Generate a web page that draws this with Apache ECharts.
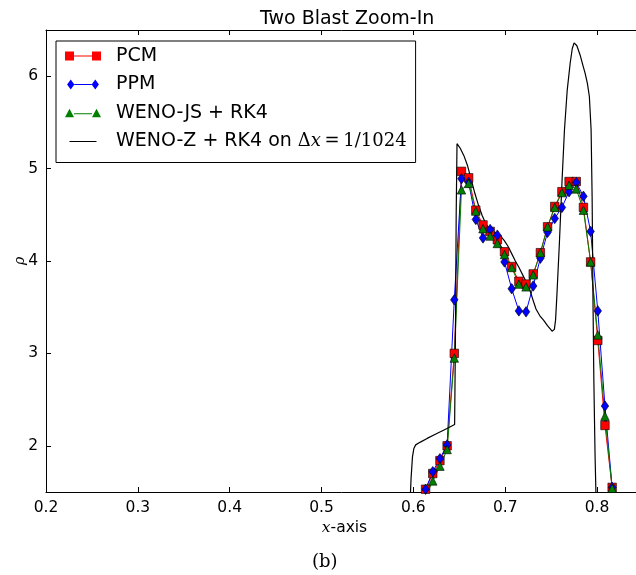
<!DOCTYPE html>
<html>
<head>
<meta charset="utf-8">
<script src="https://cdn.jsdelivr.net/npm/echarts@6/dist/echarts.min.js"></script>
<style>
html,body{margin:0;padding:0;background:#fff;}
#chart{width:636px;height:575px;}
</style>
</head>
<body>
<div id="chart"></div>
<script>
// cell centres of the 1/128 grid
var xCells = [0.61328, 0.62109, 0.62891, 0.63672, 0.64453, 0.65234, 0.66016, 0.66797, 0.67578,
  0.68359, 0.69141, 0.69922, 0.70703, 0.71484, 0.72266, 0.73047, 0.73828, 0.74609, 0.75391,
  0.76172, 0.76953, 0.77734, 0.78516, 0.79297, 0.80078, 0.80859, 0.81641];
var pcm = [1.53, 1.70, 1.84, 2.00, 3.00, 4.97, 4.90, 4.55, 4.39, 4.32, 4.23, 4.10, 3.94, 3.78,
  3.75, 3.86, 4.09, 4.37, 4.59, 4.75, 4.86, 4.86, 4.58, 3.99, 3.14, 2.22, 1.55];
var ppm = [1.53, 1.72, 1.86, 2.01, 3.58, 4.89, 4.85, 4.45, 4.25, 4.34, 4.28, 3.99, 3.70, 3.46,
  3.45, 3.73, 4.03, 4.31, 4.46, 4.58, 4.75, 4.85, 4.70, 4.32, 3.46, 2.43, 1.55];
var wenoJS = [1.45, 1.62, 1.78, 1.96, 2.95, 4.77, 4.84, 4.54, 4.35, 4.27, 4.19, 4.07, 3.93, 3.75,
  3.72, 3.85, 4.09, 4.37, 4.58, 4.74, 4.82, 4.78, 4.55, 3.99, 3.20, 2.32, 1.54];
// reference solution (fine grid), traced
var refX = [0.5960, 0.5975, 0.5990, 0.6005, 0.6025, 0.6076, 0.6150, 0.6250, 0.6350, 0.6449,
  0.6458, 0.6466, 0.6475, 0.6510, 0.6550, 0.6590, 0.6630, 0.6670, 0.6710, 0.6750, 0.6790,
  0.6830, 0.6870, 0.6910, 0.6950, 0.6990, 0.7030, 0.7070, 0.7110, 0.7150, 0.7190, 0.7230,
  0.7270, 0.7305, 0.7335, 0.7375, 0.7417, 0.7460, 0.7510, 0.7535, 0.7548, 0.7562, 0.7590,
  0.7620, 0.7645, 0.7675, 0.7707, 0.7730, 0.7750, 0.7780, 0.7815, 0.7845, 0.7870, 0.7895,
  0.7916, 0.7935, 0.7946, 0.7955, 0.7965, 0.7978, 0.7992];
var refY = [1.30, 1.65, 1.88, 1.97, 2.01, 2.04, 2.08, 2.13, 2.18, 2.23,
  3.20, 4.50, 5.27, 5.22, 5.14, 5.03, 4.88, 4.73, 4.60, 4.49, 4.40,
  4.35, 4.32, 4.30, 4.27, 4.22, 4.16, 4.08, 4.00, 3.93, 3.85, 3.77,
  3.68, 3.57, 3.48, 3.41, 3.36, 3.30, 3.24, 3.26, 3.36, 3.62, 4.20,
  4.90, 5.42, 5.85, 6.14, 6.30, 6.36, 6.33, 6.23, 6.12, 6.03, 5.92,
  5.78, 5.42, 4.70, 3.62, 2.70, 1.90, 1.30];
var xTicks = ['0.2', '0.3', '0.4', '0.5', '0.6', '0.7', '0.8'];
var yTicks = [2, 3, 4, 5, 6];
var names = ['PCM', 'PPM', 'WENO-JS + RK4', 'WENO-Z + RK4 on \u0394x = 1/1024'];

function pairs(xs, ys) { return xs.map(function (x, i) { return [x, ys[i]]; }); }

var chart = echarts.init(document.getElementById('chart'), null, {renderer: 'canvas'});
var sans = 'DejaVu Sans';
var serif = 'DejaVu Serif';

var tickCommon = {inside: true, length: 5, lineStyle: {color: '#000', width: 1}};
var axisLineCommon = {show: true, lineStyle: {color: '#000', width: 1}};

var option = {
  animation: false,
  backgroundColor: '#fff',
  title: {
    text: 'Two Blast Zoom-In',
    left: 255, top: 5,
    textStyle: {fontFamily: sans, fontSize: 19, fontWeight: 'normal', color: '#000'}
  },
  grid: {left: 46, right: -7, top: 30, bottom: 83, containLabel: false, outerBoundsMode: 'none'},
  xAxis: [{
    type: 'value', min: 0.2, max: 0.85, interval: 0.1, position: 'bottom',
    axisLine: axisLineCommon, axisTick: tickCommon, splitLine: {show: false},
    axisLabel: {fontFamily: sans, fontSize: 15.5, color: '#000', margin: 8, hideOverlap: false,
      formatter: function (v) {
        var s = (Math.round(v * 10) / 10).toFixed(1);
        return (Math.abs(v * 10 - Math.round(v * 10)) < 1e-6 && xTicks.indexOf(s) >= 0) ? s : '';
      }},
    name: '{i|x}-axis', nameLocation: 'middle', nameGap: 28, nameMoveOverlap: false,
    nameTextStyle: {fontFamily: sans, fontSize: 15.5, color: '#000',
      rich: {i: {fontFamily: serif, fontStyle: 'italic', fontSize: 15.5, color: '#000'}}}
  }, {
    type: 'value', min: 0.2, max: 0.85, interval: 0.1, position: 'top',
    axisLine: axisLineCommon, axisTick: tickCommon, axisLabel: {show: false}, splitLine: {show: false}
  }],
  yAxis: [{
    type: 'value', min: 1.5, max: 6.5, splitNumber: 5,
    axisLine: axisLineCommon,
    axisTick: tickCommon,
    splitLine: {show: false},
    axisLabel: {fontFamily: sans, fontSize: 15.5, color: '#000', margin: 8,
      formatter: function (v) { return yTicks.indexOf(v) >= 0 ? String(v) : ''; }},
    name: '\u03c1', nameLocation: 'middle', nameGap: 19, nameRotate: 90, nameMoveOverlap: false,
    nameTextStyle: {fontFamily: serif, fontStyle: 'italic', fontSize: 14, color: '#000'}
  }],
  legend: {
    orient: 'vertical', left: 56, top: 41,
    padding: [5, 9, 11, 9],
    borderColor: '#000', borderWidth: 1, backgroundColor: '#fff',
    itemWidth: 36, itemHeight: 10, itemGap: 8.5,
    itemStyle: {borderWidth: 0},
    textStyle: {fontFamily: sans, fontSize: 19, color: '#000', lineHeight: 20, padding: [0, 0, 0, 10],
      rich: {
        t: {fontFamily: sans, fontSize: 19, color: '#000'},
        m: {fontFamily: serif, fontSize: 18, color: '#000'},
        mi: {fontFamily: serif, fontStyle: 'italic', fontSize: 18, color: '#000'}
      }},
    formatter: function (n) {
      if (n === names[3]) return '{t|WENO-Z + RK4 on }{m|\u0394}{mi|x}{m|\u2009=\u20091/1024}';
      return n;
    },
    data: [
      {name: names[0], icon: 'path://M0,0.5h9v9h-9zM9,4.5h18v1h-18zM27,0.5h9v9h-9z', itemStyle: {borderWidth: 0}},
      {name: names[1], icon: 'path://M0.5,5L4.5,-0.5L8.5,5L4.5,10.5zM8.5,4.5h19v1h-19zM27.5,5L31.5,-0.5L35.5,5L31.5,10.5z', itemStyle: {borderWidth: 0}},
      {name: names[2], icon: 'path://M0,9L4.5,0.5L9,9zM9,5h18v1h-18zM27,9L31.5,0.5L36,9z', itemStyle: {borderWidth: 0}},
      {name: names[3], icon: 'path://M0,0h0.01v0.01h-0.01zM4.5,4.6h27v1h-27zM35.99,9.99h0.01v0.01h-0.01z',
        itemStyle: {borderWidth: 0}}
    ]
  },
  graphic: [{
    type: 'text', left: 312, top: 553,
    style: {text: '(b)', fontFamily: serif, fontSize: 18, fill: '#000'}
  }],
  series: [{
    name: names[0], type: 'line', data: pairs(xCells, pcm),
    symbol: 'rect', symbolSize: 8.5, showAllSymbol: true,
    lineStyle: {color: '#ff0000', width: 1},
    itemStyle: {color: '#ff0000', borderColor: '#000', borderWidth: 0.6}
  }, {
    name: names[1], type: 'line', data: pairs(xCells, ppm),
    symbol: 'diamond', symbolSize: [7.5, 10.5], showAllSymbol: true,
    lineStyle: {color: '#0000ff', width: 1},
    itemStyle: {color: '#0000ff', borderColor: '#000', borderWidth: 0.6}
  }, {
    name: names[2], type: 'line', data: pairs(xCells, wenoJS),
    symbol: 'triangle', symbolSize: [8.5, 8.5], showAllSymbol: true,
    lineStyle: {color: '#008000', width: 1},
    itemStyle: {color: '#008000', borderColor: '#000', borderWidth: 0.6}
  }, {
    name: names[3], type: 'line', data: pairs(refX, refY),
    symbol: 'none', showSymbol: false,
    lineStyle: {color: '#000', width: 1.2},
    itemStyle: {color: '#000'}
  }]
};
chart.setOption(option);
</script>
</body>
</html>
